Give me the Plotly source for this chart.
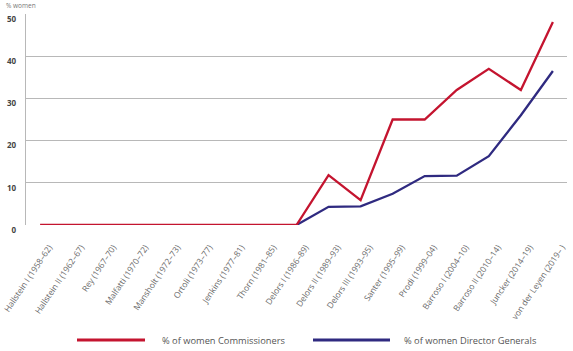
import plotly.graph_objects as go

categories = ["Hallstein I (1958–62)", "Hallstein II (1962–67)", "Rey (1967–70)", "Malfatti (1970–72)",
              "Mansholt (1972–73)", "Ortoli (1973–77)", "Jenkins (1977–81)", "Thorn (1981–85)",
              "Delors I (1986–89)", "Delors II (1989–93)", "Delors III (1993–95)", "Santer (1995–99)",
              "Prodi (1999–04)", "Barroso I (2004–10)", "Barroso II (2010–14)", "Juncker (2014–19)",
              "von der Leyen (2019– )"]
commissioners = [0, 0, 0, 0, 0, 0, 0, 0, 0, 11.8, 5.9, 25, 25, 32, 37, 32, 48.1]
director_generals = [None, None, None, None, None, None, None, None, 0, 4.3, 4.4, 7.4, 11.6, 11.7, 16.3, 26, 36.5]
y_ticks = [0, 10, 20, 30, 40, 50]

RED = "#c4142f"
BLUE = "#2f2a80"

x = list(range(len(categories)))
fig = go.Figure()
fig.add_trace(go.Scatter(x=x, y=director_generals, mode="lines", name="% of women Director Generals",
                         line=dict(color=BLUE, width=2.3), showlegend=False))
fig.add_trace(go.Scatter(x=x, y=commissioners, mode="lines", name="% of women Commissioners",
                         line=dict(color=RED, width=2.3), showlegend=False))

fig.update_layout(
    width=573, height=351,
    margin=dict(l=26, r=6, t=14, b=126),
    paper_bgcolor="white", plot_bgcolor="white",
    font=dict(family="Open Sans", color="#555555"),
    xaxis=dict(range=[-0.44, 16.44], tickmode="array", tickvals=x, ticktext=categories,
               tickangle=-56, tickfont=dict(size=8.4, color="#6a6a6a"), showgrid=False,
               zeroline=False, showline=False, ticks="", ticklabelstandoff=15,
               ticklabelshift=9, ticklabeloverflow="allow", automargin=False),
    yaxis=dict(range=[0, 50], tickvals=y_ticks, showgrid=True, gridcolor="#b8b8b8", gridwidth=1.4,
               zeroline=False, showline=True, linecolor="#b8b8b8", linewidth=1.4,
               tickfont=dict(size=8, color="#444444", weight="bold"), ticklabelstandoff=7,
               ticklabelshift=5, automargin=False),
)

fig.add_annotation(text="% women", xref="paper", yref="paper", x=-22/541, y=1 + 15/211,
                   xanchor="left", yanchor="top", showarrow=False, font=dict(size=6.5, color="#777777"))

# manual legend
legend_items = [(77, 145, 160, "% of women Commissioners", RED),
                (313, 390, 402, "% of women Director Generals", BLUE)]
for x0, x1, tx, label, col in legend_items:
    px0 = (x0 - 26) / 541
    px1 = (x1 - 26) / 541
    py = -(340 - 225) / 211
    fig.add_shape(type="line", xref="paper", yref="paper", x0=px0, x1=px1, y0=py, y1=py,
                  line=dict(color=col, width=3))
    fig.add_annotation(text=label, xref="paper", yref="paper", x=(tx - 26) / 541, y=py,
                       xanchor="left", yanchor="middle", showarrow=False,
                       font=dict(size=9.3, color="#555555"))

fig.write_html("out.html")
